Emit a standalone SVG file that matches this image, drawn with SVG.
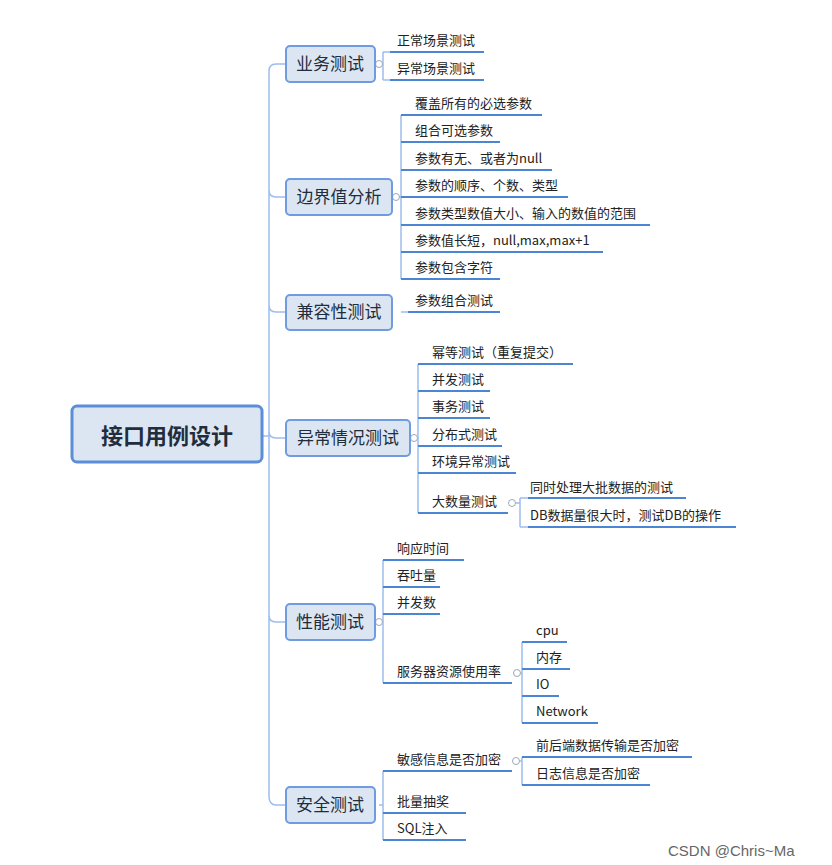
<svg xmlns="http://www.w3.org/2000/svg" width="832" height="865" viewBox="0 0 832 865">
<style>
.n{fill:#dce6f2;stroke:#6f9be0;stroke-width:2}
.t1{font-family:"Noto Sans CJK SC","Liberation Sans",sans-serif;font-size:17px;fill:#1f2d3d}
.t{font-family:"Noto Sans CJK SC","Liberation Sans",sans-serif;font-size:13px;fill:#222}
.c{fill:none;stroke:#9dbdec;stroke-width:1.5}
.u{stroke:#4a86d4;stroke-width:2}
.o{fill:#fff;stroke:#9aa8b8;stroke-width:1}
</style>
<rect width="832" height="865" fill="#fff"/>
<g id="connectors">
<path class="c" d="M262,436H269M286,64H276Q269,64 269,71V796Q269,805 276,805H286M269,190Q269,197 276,197H286M269,305Q269,312 276,312H286M269,431Q269,438 276,438H286M269,615Q269,622 276,622H286"/>
<path class="c" d="M379,64H383M383,52V80M383,52H390M383,80H390"/>
<path class="c" d="M396,197H401M401,115V279M401,312H408"/>
<path class="c" d="M414,438H418M418,364V513"/>
<path class="c" d="M516,503H520M520,498V527M520,498Q520,498 528,498M520,527H528"/>
<path class="c" d="M379,622H383M383,560V683"/>
<path class="c" d="M521,673H522M522,642V723"/>
<path class="c" d="M379,805H383M383,771V840"/>
<path class="c" d="M520,761H522M522,757V785"/>
<g class="u">
<path d="M390,52H484M390,80H484"/>
<path d="M401,115H542M401,142H500M401,170H552M401,197H568M401,225H650M401,252H603M401,279H500M408,312H500"/>
<path d="M418,364H573M418,391H490M418,418H490M418,446H502M418,473H516M418,513H508"/>
<path d="M528,498H686M528,527H736"/>
<path d="M383,560H464M383,587H440M383,614H440M383,683H512"/>
<path d="M522,642H567M522,669H570M522,696H559M522,723H598"/>
<path d="M383,771H512M383,813H466M383,840H466"/>
<path d="M522,757H692M522,785H650"/>
</g>
<circle class="o" cx="379" cy="64" r="3.5"/>
<circle class="o" cx="396" cy="197" r="3.5"/>
<circle class="o" cx="414" cy="438" r="3.5"/>
<circle class="o" cx="512" cy="503" r="3.5"/>
<circle class="o" cx="379" cy="622" r="3.5"/>
<circle class="o" cx="517" cy="673" r="3.5"/>
<circle class="o" cx="516" cy="761" r="3.5"/>
</g>
<g id="root"><rect x="72" y="406" width="190" height="56" rx="5" fill="#dce6f2" stroke="#5b8ed6" stroke-width="3"/><text x="167" y="444" text-anchor="middle" font-family="Noto Sans CJK SC,sans-serif" font-size="22" font-weight="bold" fill="#1f2d3d">接口用例设计</text></g>
<g id="n1"><rect class="n" x="286" y="46" width="89" height="36" rx="4"/><text class="t1" x="330" y="70" text-anchor="middle">业务测试</text></g>
<g id="n2"><rect class="n" x="286" y="179" width="106" height="36" rx="4"/><text class="t1" x="339" y="203" text-anchor="middle">边界值分析</text></g>
<g id="n3"><rect class="n" x="286" y="295" width="106" height="35" rx="4"/><text class="t1" x="339" y="318" text-anchor="middle">兼容性测试</text></g>
<g id="n4"><rect class="n" x="286" y="420" width="124" height="36" rx="4"/><text class="t1" x="348" y="444" text-anchor="middle">异常情况测试</text></g>
<g id="n5"><rect class="n" x="286" y="604" width="89" height="36" rx="4"/><text class="t1" x="330" y="628" text-anchor="middle">性能测试</text></g>
<g id="n6"><rect class="n" x="286" y="787" width="89" height="36" rx="4"/><text class="t1" x="330" y="811" text-anchor="middle">安全测试</text></g>
<g id="leaves" class="t">
<text class="t" x="397" y="45">正常场景测试</text>
<text class="t" x="397" y="73">异常场景测试</text>
<text class="t" x="415" y="108">覆盖所有的必选参数</text>
<text class="t" x="415" y="135">组合可选参数</text>
<text class="t" x="415" y="163">参数有无、或者为null</text>
<text class="t" x="415" y="190">参数的顺序、个数、类型</text>
<text class="t" x="415" y="218">参数类型数值大小、输入的数值的范围</text>
<text class="t" x="415" y="245">参数值长短，null,max,max+1</text>
<text class="t" x="415" y="272">参数包含字符</text>
<text class="t" x="415" y="305">参数组合测试</text>
<text class="t" x="432" y="357">幂等测试（重复提交）</text>
<text class="t" x="432" y="384">并发测试</text>
<text class="t" x="432" y="411">事务测试</text>
<text class="t" x="432" y="439">分布式测试</text>
<text class="t" x="432" y="466">环境异常测试</text>
<text class="t" x="432" y="506">大数量测试</text>
<text class="t" x="530" y="492">同时处理大批数据的测试</text>
<text class="t" x="530" y="520">DB数据量很大时，测试DB的操作</text>
<text class="t" x="397" y="553">响应时间</text>
<text class="t" x="397" y="580">吞吐量</text>
<text class="t" x="397" y="607">并发数</text>
<text class="t" x="397" y="676">服务器资源使用率</text>
<text class="t" x="536" y="635">cpu</text>
<text class="t" x="536" y="662">内存</text>
<text class="t" x="536" y="689">IO</text>
<text class="t" x="536" y="716">Network</text>
<text class="t" x="397" y="764">敏感信息是否加密</text>
<text class="t" x="536" y="750">前后端数据传输是否加密</text>
<text class="t" x="536" y="778">日志信息是否加密</text>
<text class="t" x="397" y="806">批量抽奖</text>
<text class="t" x="397" y="833">SQL注入</text>
</g>
<text x="668" y="856" font-family="Liberation Sans,sans-serif" font-size="15" fill="#666">CSDN @Chris~Ma</text>
</svg>
